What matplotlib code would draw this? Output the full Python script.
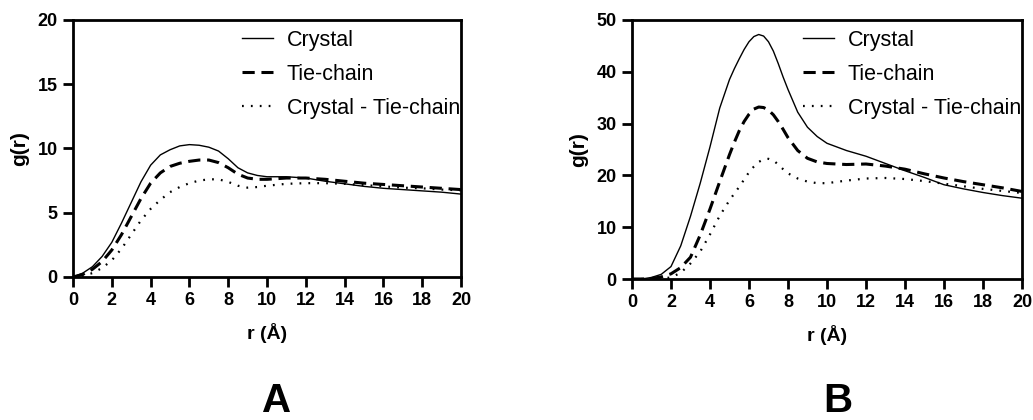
import matplotlib
matplotlib.use("Agg")
import matplotlib.pyplot as plt

plt.rcParams['font.family'] = ['Liberation Sans', 'DejaVu Sans']

# radial distribution functions, panel A
r_a = [0, 0.5, 1.0, 1.5, 2.0, 2.5, 3.0, 3.5, 4.0, 4.5, 5.0, 5.5, 6.0, 6.5, 7.0,
       7.5, 8.0, 8.5, 9.0, 9.5, 10, 11, 12, 13, 14, 15, 16, 17, 18, 19, 20]
crystal_a = [0.0, 0.3, 0.8, 1.6, 2.7, 4.2, 5.8, 7.4, 8.7, 9.5, 9.9, 10.2, 10.3, 10.25, 10.1,
             9.8, 9.2, 8.5, 8.1, 7.9, 7.8, 7.8, 7.7, 7.45, 7.25, 7.05, 6.9, 6.8, 6.7, 6.6, 6.45]
tie_a = [0.0, 0.2, 0.6, 1.2, 2.1, 3.3, 4.7, 6.1, 7.3, 8.1, 8.6, 8.85, 9.0, 9.1, 9.1,
         8.9, 8.5, 8.0, 7.7, 7.6, 7.6, 7.7, 7.7, 7.6, 7.45, 7.3, 7.2, 7.1, 7.0, 6.9, 6.8]
diff_a = [0.0, 0.1, 0.3, 0.7, 1.3, 2.2, 3.3, 4.4, 5.3, 6.0, 6.6, 7.0, 7.3, 7.5, 7.6,
          7.6, 7.4, 7.1, 6.95, 7.0, 7.1, 7.25, 7.3, 7.3, 7.25, 7.15, 7.05, 6.95, 6.9, 6.8, 6.75]

# radial distribution functions, panel B (finer steps around the main peak)
r_b = [0, 0.5, 1.0, 1.5, 2.0, 2.5, 3.0, 3.5, 4.0, 4.5,
       5.0, 5.25, 5.5, 5.75, 6.0, 6.25, 6.5, 6.75, 7.0, 7.25, 7.5, 7.75, 8.0,
       8.5, 9.0, 9.5, 10, 11, 12, 13, 14, 15, 16, 17, 18, 19, 20]
crystal_b = [0.0, 0.0, 0.3, 0.9, 2.4, 6.4, 12.1, 18.5, 25.5, 33.0,
             38.5, 40.6, 42.5, 44.3, 45.8, 46.8, 47.2, 46.9, 45.8, 44.0, 41.6, 39.0, 36.6,
             32.2, 29.3, 27.5, 26.2, 24.8, 23.7, 22.3, 20.9, 19.6, 18.2, 17.4, 16.7, 16.1, 15.6]
tie_b = [0.0, 0.0, 0.1, 0.4, 1.0, 2.2, 4.2, 8.5, 13.5, 18.8,
         24.0, 26.4, 28.6, 30.4, 31.8, 32.8, 33.2, 33.1, 32.6, 31.7, 30.4, 28.9, 27.3,
         24.8, 23.3, 22.6, 22.3, 22.1, 22.2, 21.8, 21.2, 20.3, 19.5, 18.8, 18.2, 17.6, 16.9]
diff_b = [0.0, 0.0, 0.0, 0.1, 0.3, 1.2, 3.0, 5.3, 8.6, 12.2,
          15.2, 16.5, 17.8, 19.2, 20.6, 21.7, 22.6, 23.1, 23.2, 22.9, 22.1, 21.2, 20.4,
          19.4, 18.8, 18.5, 18.5, 19.0, 19.4, 19.5, 19.3, 18.9, 18.4, 17.9, 17.4, 17.0, 16.6]

labels = ['Crystal', 'Tie-chain', 'Crystal - Tie-chain']

fig = plt.figure(figsize=(10.33, 4.2), dpi=100)
ax_a = fig.add_axes([0.0707, 0.3405, 0.3756, 0.612])
ax_b = fig.add_axes([0.6118, 0.3357, 0.3775, 0.6167])


def draw_panel(ax, r, crystal, tie, diff, ymax, ystep):
    ax.plot(r, crystal, color='black', lw=1.0, label=labels[0])
    ax.plot(r, tie, color='black', lw=2.2, dashes=(4, 2.2), label=labels[1])
    ax.plot(r, diff, color='black', lw=1.6, dashes=(0.8, 3.2), label=labels[2])
    ax.set_xlim(0, 20)
    ax.set_ylim(0, ymax)
    ax.set_xticks(range(0, 21, 2))
    ax.set_yticks(range(0, ymax + 1, ystep))
    for s in ax.spines.values():
        s.set_linewidth(2)
    ax.tick_params(direction='out', length=7, width=2, labelsize=13, pad=4)
    for t in ax.get_xticklabels() + ax.get_yticklabels():
        t.set_fontweight('bold')
    ax.set_xlabel('r (Å)', fontsize=14, fontweight='bold', labelpad=10)
    ax.set_ylabel('g(r)', fontsize=15, fontweight='bold', labelpad=6)
    ax.legend(loc='upper right', frameon=False, fontsize=15.5, handlelength=1.45,
              handletextpad=0.65, labelspacing=0.6, borderaxespad=0.0,
              bbox_to_anchor=(1.02, 0.995))


draw_panel(ax_a, r_a, crystal_a, tie_a, diff_a, 20, 5)
draw_panel(ax_b, r_b, crystal_b, tie_b, diff_b, 50, 10)

# panel letters under each plot
fig.text(277 / 1033, 0.0, 'A', ha='center', va='bottom', fontsize=29, fontweight='bold')
fig.text(838 / 1033, 0.0, 'B', ha='center', va='bottom', fontsize=29, fontweight='bold')

fig.savefig('out.png', dpi=100)
